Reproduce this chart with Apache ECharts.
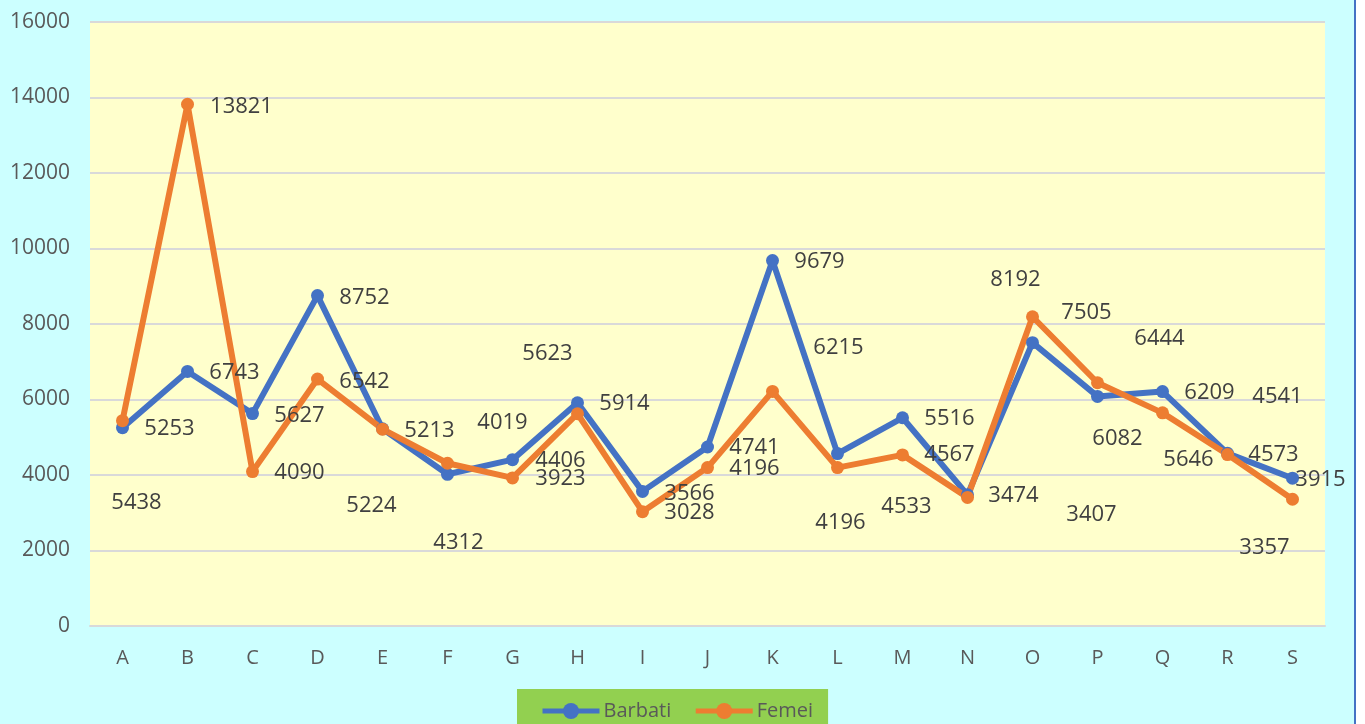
<!DOCTYPE html>
<html>
<head>
<meta charset="utf-8">
<script src="https://cdn.jsdelivr.net/npm/echarts@6/dist/echarts.min.js"></script>
<style>
  html, body { margin: 0; padding: 0; background: #ffffff; }
  #chart { width: 1354px; height: 724px; background: #CCFFFF; border-right: 2px solid #4472C4; }
</style>
</head>
<body>
<div id="chart"></div>
<script>
// ---- data ----
const categories = ['A','B','C','D','E','F','G','H','I','J','K','L','M','N','O','P','Q','R','S'];
const barbati = [5253, 6743, 5627, 8752, 5224, 4019, 4406, 5914, 3566, 4741, 9679, 4567, 5516, 3474, 7505, 6082, 6209, 4573, 3915];
const femei   = [5438, 13821, 4090, 6542, 5213, 4312, 3923, 5623, 3028, 4196, 6215, 4196, 4533, 3407, 8192, 6444, 5646, 4541, 3357];
const seriesNames = ['Barbati', 'Femei'];
const yMin = 0, yMax = 16000, yInterval = 2000;

// ---- label placement (pixel offsets from each point, as in the reference) ----
const barbatiLabelOffsets = [
  [47,1],[47,1],[47,2],[47,2],[-11,77],[55,-52],[48,1],[47,1],[47,2],[47,1],
  [47,1],[112,1],[47,1],[46,1],[54,-30],[20,42],[47,1],[46,1],[28,2]
];
const femeiLabelOffsets = [
  [14,82],[54,2],[47,1],[47,3],[47,2],[11,80],[48,1],[-30,-60],[47,1],[47,1],
  [66,-44],[3,55],[4,52],[124,17],[-17,-37],[62,-44],[26,47],[50,-58],[-28,48]
];

const chart = echarts.init(document.getElementById('chart'), null, { renderer: 'canvas' });

const FONT = "'Open Sans', 'Noto Sans', sans-serif";

function buildSeries(name, values, offsets, color) {
  return {
    name: name,
    type: 'line',
    data: values.map((v, i) => ({ value: v, label: { offset: offsets[i] } })),
    symbol: 'circle',
    symbolSize: 13,
    lineStyle: { width: 6, color: color },
    itemStyle: { color: color },
    label: {
      show: true,
      position: 'inside',
      color: '#404040',
      fontFamily: FONT,
      fontSize: 22
    },
    emphasis: { disabled: true },
    animation: false
  };
}

chart.setOption({
  animation: false,
  textStyle: { fontFamily: FONT },
  grid: {
    left: 90, right: 29, top: 22, bottom: 98,
    show: true, backgroundColor: '#FFFFCC', borderWidth: 0
  },
  legend: {
    data: seriesNames,
    left: 517, top: 689,
    backgroundColor: '#92D050',
    padding: [12, 15, 12, 23],
    itemWidth: 57, itemHeight: 20, itemGap: 22,
    lineStyle: { width: 5 },
    textStyle: { color: '#595959', fontSize: 20, fontFamily: FONT, padding: [0,0,0,-1] }
  },
  xAxis: {
    type: 'category',
    data: categories,
    axisTick: { show: false },
    axisLine: { lineStyle: { color: '#D9D9D9', width: 2 } },
    axisLabel: { color: '#595959', fontSize: 20, fontFamily: FONT, margin: 22 }
  },
  yAxis: {
    type: 'value',
    min: yMin, max: yMax, interval: yInterval,
    axisLine: { show: false },
    axisTick: { show: false },
    splitLine: { lineStyle: { color: '#D9D9D9', width: 2 } },
    axisLabel: { color: '#595959', fontSize: 21, fontFamily: FONT, margin: 20, formatter: (v) => String(v) }
  },
  series: [
    buildSeries(seriesNames[0], barbati, barbatiLabelOffsets, '#4472C4'),
    buildSeries(seriesNames[1], femei, femeiLabelOffsets, '#ED7D31')
  ]
});
</script>
</body>
</html>
